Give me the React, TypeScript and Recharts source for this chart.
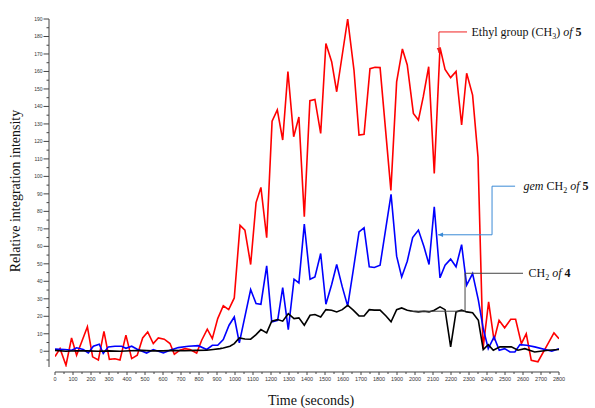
import React from 'react';
import { LineChart, Line, XAxis, YAxis, ReferenceLine } from 'recharts';

// ethyl group (CH3) of 5 -- red
const ethylTime = [
  0, 28, 61, 92, 120, 180, 209, 241, 272, 302, 333, 361, 394, 426, 457, 487, 515, 546, 574, 607,
  639, 663, 694, 722, 750, 787, 815, 846, 874, 904, 935, 965, 996, 1028, 1055, 1087, 1117, 1144,
  1176, 1206, 1235, 1265, 1294, 1326, 1355, 1385, 1416, 1444, 1476, 1505, 1537, 1565, 1626, 1661,
  1689, 1717, 1750, 1778, 1806, 1866, 1898, 1930, 1957, 1991, 2019, 2046, 2076, 2107, 2139, 2167,
  2198, 2228, 2259, 2287, 2320, 2350, 2378, 2409, 2439, 2467, 2498, 2532, 2559, 2591, 2618, 2646,
  2683, 2729, 2772, 2800,
];
const ethylValue = [
  -3, 1.5, -8, 7.6, -2.3, 14, -3.2, -5, 11.4, -4.6, -4.3, -5, 9.2, -4.2, -2.3, 7.6, 11, 4.4, 7.6, 6.9,
  4.4, -1.7, 0.6, 1.5, 1, -1, 6.3, 12.6, 7.2, 18.7, 26, 23.8, 30.5, 72, 69.3, 49.6, 85, 93.7,
  65, 131.6, 138, 120.8, 160, 122.7, 134, 77, 143.3, 144, 124.6, 176, 165.6, 148.4, 190, 160.8,
  123.6, 124, 161.6, 162.4, 162.2, 92, 154, 172.9, 163.7, 136, 132.2, 145.6, 162.7, 101.7, 173.8, 161.2,
  156.5, 160, 129.4, 159, 146.5, 111, 1.5, 28.2, 6.3, 17.7, 13.4, 18.3, 18.3, 4.4, 10, -5.2,
  -6, 2.5, 10.5, 7.2,
];

// gem CH2 of 5 -- blue
const gemTime = [
  0, 55, 93, 120, 157, 185, 213, 246, 268, 296, 333, 370, 394, 426, 454, 509, 546, 602, 639, 685,
  741, 796, 843, 874, 904, 935, 967, 996, 1024, 1087, 1117, 1144, 1176, 1204, 1237, 1265, 1296, 1328,
  1355, 1385, 1417, 1444, 1476, 1505, 1537, 1565, 1596, 1626, 1657, 1689, 1717, 1746, 1774, 1806,
  1839, 1867, 1898, 1926, 1957, 1987, 2019, 2050, 2078, 2107, 2139, 2167, 2198, 2228, 2259, 2287,
  2320, 2352, 2379, 2407, 2439, 2468, 2498, 2528, 2555, 2583, 2620, 2665, 2760, 2800,
];
const gemValue = [
  1.2, 1, 0.6, 2, 1, -1, 2.9, 4, -1.3, 2.5, 2.9, 2.9, 1.7, 2.9, 1.3, -1, 1, -1, 0.6, 2.1,
  2.9, 3.2, 1, 3.4, 3.4, 6.7, 14.9, 19.6, 4.8, 35.3, 27.3, 26.9, 48.8, 16.8, 17.7, 36.4, 12.4, 41.2,
  39.1, 72.7, 41.2, 42.5, 55.9, 26.9, 38.2, 49.6, 36.8, 25.8, 46.4, 68.3, 70.6, 48.3, 47.9, 49.2,
  71.1, 89.7, 54.4, 42.5, 51.5, 65, 69.3, 59.7, 49.6, 82.6, 42, 49.2, 52.7, 48.3, 61, 37.8,
  44.4, 29.2, 13, 1.5, 8.2, 0.6, 1.5, -0.4, -0.4, 3.8, 3.4, 2.5, 0, 1.5,
];

// CH2 of 4 -- black
const ch2Time = [
  0, 60, 120, 180, 240, 300, 360, 420, 480, 540, 600, 660, 720, 780, 843, 879, 917, 935, 972, 996,
  1024, 1055, 1087, 1117, 1144, 1176, 1204, 1237, 1265, 1296, 1328, 1355, 1385, 1417, 1444, 1476,
  1505, 1537, 1565, 1596, 1626, 1657, 1689, 1717, 1746, 1774, 1806, 1839, 1867, 1898, 1926, 1957,
  1987, 2019, 2050, 2078, 2107, 2139, 2167, 2198, 2228, 2259, 2287, 2320, 2352, 2379, 2407, 2435,
  2472, 2535, 2572, 2610, 2665, 2740, 2800,
];
const ch2Value = [
  0.5, 0, 0.3, 0.2, 0, 0.2, 0, 0.3, 0.5, 0.2, 0.2, 0.5, 0.3, 0.5, 0.6, 1, 1.5, 1.9, 2.9, 4.4,
  7.6, 7, 6.9, 9.5, 12.4, 10.5, 17.2, 18.1, 17.2, 21.5, 18.7, 19.1, 14.9, 20.6, 21, 19.6,
  23.8, 23.5, 22.5, 23.8, 26.3, 23.5, 20.2, 20.2, 23.8, 23.5, 23.5, 20.2, 16.8, 23.8, 24.8, 23.5,
  22.9, 22.5, 22.9, 22.5, 23.5, 25.4, 23.8, 2.5, 22.5, 23.5, 22.5, 22, 17.7, 1, 3.8, 0.6,
  2.5, 2.5, 0.6, 1.5, -0.4, 0.6, 1,
];

const xTicks = Array.from({ length: 57 }, (_, i) => i * 50);
const yTicks = Array.from({ length: 40 }, (_, i) => -5 + i * 5);

const ethylData = ethylTime.map((t, i) => ({ t, v: ethylValue[i] }));
const gemData = gemTime.map((t, i) => ({ t, v: gemValue[i] }));
const ch2Data = ch2Time.map((t, i) => ({ t, v: ch2Value[i] }));

const W = 595;
const H = 408;
const M_TOP = 19;
const M_RIGHT = 36;
const Y_W = 49;
const X_H = 41;
const X_PAD = 6;
const TICK_PX = (W - M_RIGHT - Y_W - X_PAD) / (xTicks.length - 1);

const serif = '"Liberation Serif", "Times New Roman", serif';
const sans = '"Liberation Sans", Arial, sans-serif';
const axisColor = '#444';

const XTick = (props: any) => {
  const { x, y, payload } = props;
  const v = payload.value;
  const major = v % 100 === 0;
  const ly = y + 5;
  return (
    <g>
      {v < 2800 && <line x1={x} x2={x + TICK_PX} y1={ly} y2={ly} stroke={axisColor} strokeWidth={1} />}
      <line x1={x} x2={x} y1={ly} y2={ly + (major ? 3 : 2)} stroke={axisColor} strokeWidth={1} />
      {major && (
        <text x={x} y={ly + 9} textAnchor="middle" fontSize={5.5} fontFamily={sans} fill="#333">
          {v}
        </text>
      )}
    </g>
  );
};

const YTick = (props: any) => {
  const { x, y, payload } = props;
  const v = payload.value;
  const major = v % 10 === 0;
  return (
    <g>
      <line x1={x - (major ? 5.5 : 2.5)} x2={x} y1={y} y2={y} stroke={axisColor} strokeWidth={1} />
      {major && (
        <text x={x - 6.5} y={y + 1.8} textAnchor="end" fontSize={5} fontFamily={sans} fill="#333">
          {v}
        </text>
      )}
    </g>
  );
};

const arrowLeft = (color: string) => (p: any) => (
  <g>
    <line x1={p.x1} y1={p.y1} x2={p.x2} y2={p.y2} stroke={color} strokeWidth={1} />
    <path d={`M${Math.min(p.x1, p.x2)},${p.y2} l5,-2.2 l0,4.4 z`} fill={color} />
  </g>
);

const arrowDown = (color: string) => (p: any) => (
  <g>
    <line x1={p.x1} y1={p.y1} x2={p.x2} y2={p.y2} stroke={color} strokeWidth={1} />
    <path d={`M${p.x2},${Math.max(p.y1, p.y2)} l-2.2,-5 l4.4,0 z`} fill={color} />
  </g>
);

const ethylLead = '#f02020';
const gemLead = '#3a8ad6';
const ch2Lead = '#444';

export default function App() {
  return (
    <div style={{ position: 'absolute', left: 0, top: 0, width: W, height: H, background: '#fff' }}>
      <LineChart width={W} height={H} margin={{ top: M_TOP, right: M_RIGHT, bottom: 0, left: 0 }}>
        <XAxis
          dataKey="t"
          type="number"
          domain={[0, 2800]}
          ticks={xTicks}
          interval={0}
          padding={{ left: X_PAD, right: 0 }}
          height={X_H}
          axisLine={false}
          tickLine={false}
          tickSize={0}
          tickMargin={0}
          tick={<XTick />}
          allowDataOverflow
        />
        <YAxis
          type="number"
          domain={[-9, 190]}
          ticks={yTicks}
          interval={0}
          width={Y_W}
          axisLine={{ stroke: axisColor, strokeWidth: 1 }}
          tickLine={false}
          tickSize={0}
          tickMargin={0}
          tick={<YTick />}
          allowDataOverflow
        />
        <Line data={ethylData} dataKey="v" stroke="#ff0000" strokeWidth={1.6} dot={false} isAnimationActive={false} />
        <Line data={gemData} dataKey="v" stroke="#0000ff" strokeWidth={1.6} dot={false} isAnimationActive={false} />
        <Line data={ch2Data} dataKey="v" stroke="#000000" strokeWidth={1.6} dot={false} isAnimationActive={false} />

        <ReferenceLine segment={[{ x: 2133, y: 182.6 }, { x: 2289, y: 182.6 }]} stroke={ethylLead} strokeWidth={1} />
        <ReferenceLine segment={[{ x: 2133, y: 182.6 }, { x: 2133, y: 170.6 }]} shape={arrowDown(ethylLead)} />

        <ReferenceLine segment={[{ x: 2428, y: 94.4 }, { x: 2556, y: 94.4 }]} stroke={gemLead} strokeWidth={1} />
        <ReferenceLine segment={[{ x: 2428, y: 94.4 }, { x: 2428, y: 66.6 }]} stroke={gemLead} strokeWidth={1} />
        <ReferenceLine segment={[{ x: 2428, y: 66.6 }, { x: 2128, y: 66.6 }]} shape={arrowLeft(gemLead)} />

        <ReferenceLine segment={[{ x: 2278, y: 44.6 }, { x: 2600, y: 44.6 }]} stroke={ch2Lead} strokeWidth={1} />
        <ReferenceLine segment={[{ x: 2278, y: 44.6 }, { x: 2278, y: 22.9 }]} stroke={ch2Lead} strokeWidth={1} />
        <ReferenceLine segment={[{ x: 1972, y: 22.9 }, { x: 2278, y: 22.9 }]} stroke={ch2Lead} strokeWidth={1} />
      </LineChart>

      <svg width={W} height={H} style={{ position: 'absolute', left: 0, top: 0, pointerEvents: 'none' }}>
        <text
          x={15}
          y={191}
          transform="rotate(-90 15 191)"
          textAnchor="middle"
          dominantBaseline="central"
          fontSize={14}
          fontFamily={serif}
          fill="#111"
        >
          Relative integration intensity
        </text>
        <text x={311} y={405} textAnchor="middle" fontSize={14} fontFamily={serif} fill="#111">
          Time (seconds)
        </text>

        <text x={471.5} y={36} fontSize={12} fontFamily={serif} fill="#111">
          Ethyl group (CH<tspan dy={3} fontSize={8}>3</tspan>
          <tspan dy={-3}>){' '}</tspan>
          <tspan fontStyle="italic">of</tspan>{' '}
          <tspan fontWeight="bold">5</tspan>
        </text>
        <text x={523.5} y={190} fontSize={12} fontFamily={serif} fill="#111">
          <tspan fontStyle="italic">gem</tspan> CH<tspan dy={3} fontSize={8}>2</tspan>
          <tspan dy={-3} fontStyle="italic">{' '}of</tspan>{' '}
          <tspan fontWeight="bold">5</tspan>
        </text>
        <text x={528.5} y={277} fontSize={12} fontFamily={serif} fill="#111">
          CH<tspan dy={3} fontSize={8}>2</tspan>
          <tspan dy={-3} fontStyle="italic">{' '}of</tspan>{' '}
          <tspan fontWeight="bold">4</tspan>
        </text>
      </svg>
    </div>
  );
}
